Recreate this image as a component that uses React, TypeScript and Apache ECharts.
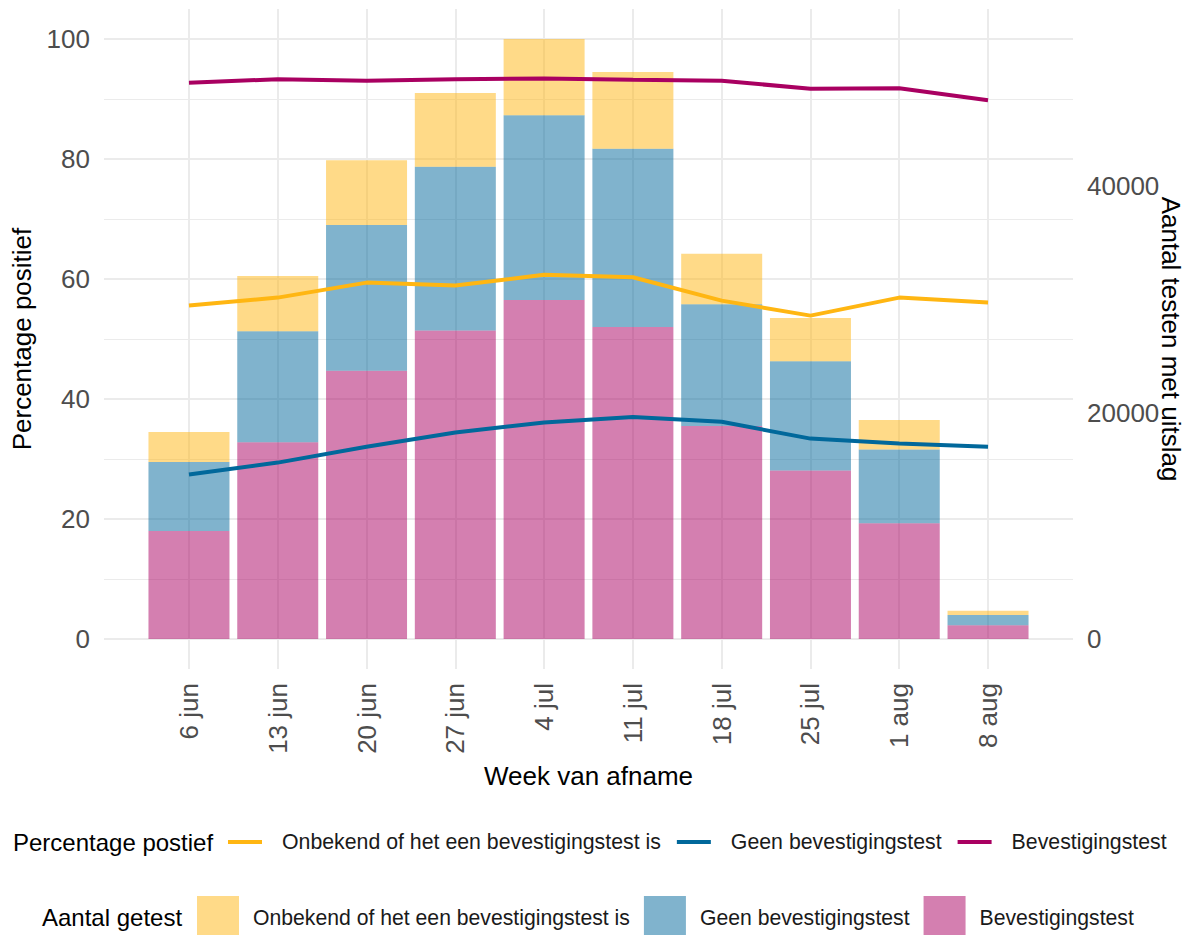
import React, { useEffect, useRef } from "react";
import * as echarts from "echarts";

// ---- Data ----
const weeks = ["6 jun", "13 jun", "20 jun", "27 jun", "4 jul", "11 jul", "18 jul", "25 jul", "1 aug", "8 aug"];

// Aantal testen met uitslag (stacked bars, right axis)
const countBevestiging = [9540, 17380, 23690, 27240, 29950, 27560, 18820, 14890, 10230, 1220];
const countGeen = [6100, 9810, 12880, 14470, 16320, 15740, 10760, 9650, 6520, 900];
const countOnbekend = [2650, 4880, 5720, 6520, 6730, 6780, 4450, 3820, 2600, 370];

// Percentage positief (lines, left axis)
const pctOnbekend = [55.6, 56.9, 59.4, 58.9, 60.7, 60.3, 56.4, 53.9, 56.9, 56.1];
const pctGeen = [27.4, 29.4, 32.05, 34.4, 36.1, 37.0, 36.2, 33.4, 32.6, 32.05];
const pctBevestiging = [92.7, 93.3, 93.05, 93.3, 93.4, 93.2, 93.05, 91.7, 91.8, 89.8];

const leftTicks = [0, 20, 40, 60, 80, 100];
const leftMinorTicks = [10, 30, 50, 70, 90];
const rightTicks = [0, 20000, 40000];

const labelOnbekend = "Onbekend of het een bevestigingstest is";
const labelGeen = "Geen bevestigingstest";
const labelBev = "Bevestigingstest";

const legendLabels: Record<string, string> = {
  "pct-onbekend": labelOnbekend,
  "pct-geen": labelGeen,
  "pct-bev": labelBev,
  "cnt-onbekend": labelOnbekend,
  "cnt-geen": labelGeen,
  "cnt-bev": labelBev,
};

// secondary axis scale: counts per percentage point
const COUNT_PER_PCT = 530;
const Y_MIN = -5;
const Y_MAX = 105;

const FONT = "'Liberation Sans', Arial, sans-serif";
const C_YELLOW = "#FFB612";
const C_BLUE = "#01689B";
const C_MAGENTA = "#A90061";
const F_YELLOW = "rgba(255,182,18,0.5)";
const F_BLUE = "rgba(1,104,155,0.5)";
const F_MAGENTA = "rgba(169,0,97,0.5)";
const GRID = "#EBEBEB";

export default function App() {
  const ref = useRef<HTMLDivElement>(null);

  useEffect(() => {
    if (!ref.current) return;
    const chart = echarts.init(ref.current, null, { renderer: "svg" });
    const idx = weeks.map((_, i) => i);
    const pair = (arr: number[]) => arr.map((v, i) => [i, v]);
    // value first, so the y dimension is the stacked one
    const barPair = (arr: number[]) => arr.map((v, i) => [v, i]);

    const barBase = {
      type: "bar",
      stack: "n",
      yAxisIndex: 1,
      barWidth: 81,
      encode: { x: 1, y: 0 },
    };
    const lineBase = {
      type: "line",
      yAxisIndex: 0,
      showSymbol: false,
      symbol: "none",
      z: 5,
    };

    const option: any = {
      animation: false,
      textStyle: { fontFamily: FONT },
      grid: { left: 104, top: 9, width: 969, height: 660, containLabel: false, outerBoundsMode: "none" },
      legend: [
        {
          data: ["pct-onbekend", "pct-geen", "pct-bev"],
          left: 228,
          top: 830,
          padding: 0,
          icon: "rect",
          itemWidth: 34,
          itemHeight: 4,
          itemGap: 16,
          selectedMode: false,
          formatter: (n: string) => legendLabels[n],
          textStyle: { fontSize: 21.3, color: "#1a1a1a", fontFamily: FONT, padding: [0, 0, 0, 15], lineHeight: 24 },
        },
        {
          data: ["cnt-onbekend", "cnt-geen", "cnt-bev"],
          left: 197,
          top: 896,
          padding: 0,
          icon: "rect",
          itemWidth: 42,
          itemHeight: 42,
          itemGap: 14,
          selectedMode: false,
          formatter: (n: string) => legendLabels[n],
          textStyle: { fontSize: 21.2, color: "#1a1a1a", fontFamily: FONT, padding: [0, 0, 0, 9] },
        },
      ],
      graphic: [
        {
          type: "text",
          x: 13,
          y: 842,
          style: { text: "Percentage postief", fontSize: 24, fontFamily: FONT, fill: "#000", verticalAlign: "middle" },
        },
        {
          type: "text",
          x: 42,
          y: 917,
          style: { text: "Aantal getest", fontSize: 24, fontFamily: FONT, fill: "#000", verticalAlign: "middle" },
        },
      ],
      xAxis: {
        type: "value",
        min: -0.957,
        max: 9.957,
        axisLine: { show: false, onZero: false },
        axisTick: { show: false, customValues: idx },
        axisLabel: {
          customValues: idx,
          formatter: (v: number) => weeks[Math.round(v)],
          rotate: 90,
          margin: 14,
          fontSize: 26,
          color: "#4D4D4D",
          fontFamily: FONT,
        },
        splitLine: { show: true, lineStyle: { color: GRID, width: 2 } },
        name: "Week van afname",
        nameLocation: "middle",
        nameGap: 94,
        nameMoveOverlap: false,
        nameTextStyle: { fontSize: 26, color: "#000", fontFamily: FONT },
      },
      yAxis: [
        {
          type: "value",
          position: "left",
          min: Y_MIN,
          max: Y_MAX,
          axisLine: { show: false, onZero: false },
          axisTick: { show: false, customValues: leftTicks },
          axisLabel: { customValues: leftTicks, margin: 14, fontSize: 26, color: "#4D4D4D", fontFamily: FONT },
          splitLine: { show: true, lineStyle: { color: GRID, width: 2 } },
          name: "Percentage positief",
          nameLocation: "middle",
          nameRotate: 90,
          nameGap: 69,
          nameMoveOverlap: false,
          nameTextStyle: { fontSize: 26, color: "#000", fontFamily: FONT },
        },
        {
          type: "value",
          position: "right",
          min: Y_MIN * COUNT_PER_PCT,
          max: Y_MAX * COUNT_PER_PCT,
          axisLine: { show: false, onZero: false },
          axisTick: { show: false, customValues: rightTicks },
          axisLabel: {
            customValues: rightTicks,
            formatter: (v: number) => String(v),
            margin: 14,
            fontSize: 26,
            color: "#4D4D4D",
            fontFamily: FONT,
          },
          splitLine: { show: false },
          name: "Aantal testen met uitslag",
          nameLocation: "middle",
          nameRotate: -90,
          nameGap: 85,
          nameMoveOverlap: false,
          nameTextStyle: { fontSize: 26, color: "#000", fontFamily: FONT },
        },
        {
          type: "value",
          position: "left",
          min: Y_MIN,
          max: Y_MAX,
          axisLine: { show: false, onZero: false },
          axisTick: { show: false, customValues: leftMinorTicks },
          axisLabel: { show: false },
          splitLine: { show: true, lineStyle: { color: GRID, width: 1.2 } },
        },
      ],
      series: [
        { ...barBase, name: "cnt-bev", data: barPair(countBevestiging), itemStyle: { color: F_MAGENTA } },
        { ...barBase, name: "cnt-geen", data: barPair(countGeen), itemStyle: { color: F_BLUE } },
        { ...barBase, name: "cnt-onbekend", data: barPair(countOnbekend), itemStyle: { color: F_YELLOW } },
        {
          ...lineBase,
          name: "pct-onbekend",
          data: pair(pctOnbekend),
          lineStyle: { width: 4, color: C_YELLOW },
          itemStyle: { color: C_YELLOW },
        },
        {
          ...lineBase,
          name: "pct-geen",
          data: pair(pctGeen),
          lineStyle: { width: 4, color: C_BLUE },
          itemStyle: { color: C_BLUE },
        },
        {
          ...lineBase,
          name: "pct-bev",
          data: pair(pctBevestiging),
          lineStyle: { width: 4, color: C_MAGENTA },
          itemStyle: { color: C_MAGENTA },
        },
      ],
    };

    chart.setOption(option);
    return () => {
      chart.dispose();
    };
  }, []);

  return (
    <div
      ref={ref}
      style={{ position: "fixed", left: 0, top: 0, width: 1195, height: 935, background: "#fff" }}
    />
  );
}
